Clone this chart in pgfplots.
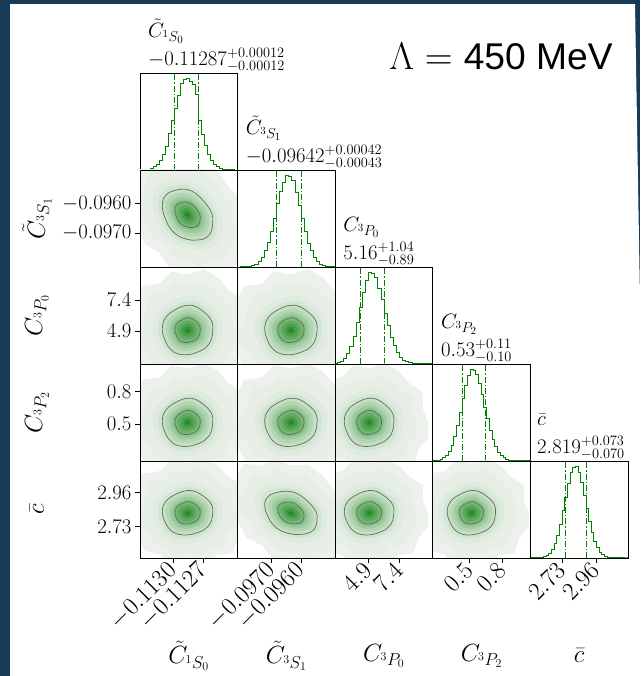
\documentclass[border=0pt]{standalone}
\usepackage{fontspec}
\usepackage{pgfplots}
\usepackage{pgfplotstable}
\pgfplotsset{compat=1.18}
\newfontfamily\arialfont{Liberation Sans}

\definecolor{navy}{RGB}{23,58,86}
\definecolor{hgreen}{RGB}{0,128,0}
\definecolor{clinecol}{RGB}{105,105,105}
\definecolor{L0}{RGB}{236,241,236}
\definecolor{L1}{RGB}{230,238,230}
\definecolor{L2}{RGB}{222,235,222}
\definecolor{L3}{RGB}{210,229,210}
\definecolor{L4}{RGB}{196,223,196}
\definecolor{L5}{RGB}{178,214,178}
\definecolor{L6}{RGB}{158,204,158}
\definecolor{L7}{RGB}{136,193,136}
\definecolor{L8}{RGB}{116,183,116}
\definecolor{L9}{RGB}{95,171,95}
\definecolor{L10}{RGB}{76,159,76}
\definecolor{L11}{RGB}{58,146,58}
\definecolor{L12}{RGB}{40,131,40}

% contour shapes in units of sigma
\pgfplotstableread{
u v
1.000 0.000
1.005 0.177
0.968 0.352
0.883 0.510
0.766 0.643
0.637 0.758
0.500 0.866
0.349 0.959
0.179 1.015
0.000 1.020
-0.174 0.985
-0.335 0.921
-0.485 0.840
-0.630 0.751
-0.766 0.643
-0.875 0.505
-0.959 0.349
-0.995 0.176
-1.000 0.000
-0.975 -0.172
-0.921 -0.335
-0.857 -0.495
-0.774 -0.649
-0.662 -0.789
-0.520 -0.901
-0.352 -0.968
-0.176 -0.995
0.000 -0.990
0.171 -0.965
0.332 -0.912
0.490 -0.849
0.643 -0.766
0.774 -0.649
0.883 -0.510
0.949 -0.345
0.985 -0.174
1.000 0.000
}\shapeA

\pgfplotstableread{
u v
1.000 0.000
0.908 0.243
0.918 0.530
0.686 0.686
0.515 0.892
0.280 1.043
0.000 0.950
-0.269 1.005
-0.460 0.797
-0.749 0.749
-0.866 0.500
-0.898 0.241
-1.040 0.000
-1.034 -0.277
-0.831 -0.480
-0.714 -0.714
-0.460 -0.797
-0.275 -1.024
0.000 -0.970
0.272 -1.014
0.470 -0.814
0.756 -0.756
0.831 -0.480
0.995 -0.267
1.000 0.000
}\shapeB

\newcommand{\setpar}[6]{\def\mx{#1}\def\sx{#2}\def\my{#3}\def\sy{#4}\def\rh{#5}\def\rc{#6}}
\newcommand{\lev}[3]{\addplot[draw=none, fill=#2] table[x expr={\mx+#1*\sx*\thisrow{u}}, y expr={\my+#1*\sy*(\rh*\thisrow{u}+\rc*\thisrow{v})}]{#3};}
\newcommand{\clev}[1]{\addplot[draw=clinecol, line width=0.7pt] table[x expr={\mx+#1*\sx*\thisrow{u}}, y expr={\my+#1*\sy*(\rh*\thisrow{u}+\rc*\thisrow{v})}]{\shapeA};}
\newcommand{\kde}{%
\lev{5.0}{L0}{\shapeB}\lev{4.0}{L1}{\shapeB}\lev{2.9}{L2}{\shapeA}\lev{2.45}{L3}{\shapeA}%
\lev{2.1}{L4}{\shapeA}\lev{1.8}{L5}{\shapeA}\lev{1.5}{L6}{\shapeA}\lev{1.25}{L7}{\shapeA}%
\lev{1.05}{L8}{\shapeA}\lev{0.8}{L9}{\shapeA}\lev{0.55}{L10}{\shapeA}\lev{0.32}{L11}{\shapeA}%
\lev{0.14}{L12}{\shapeA}\clev{2.1}\clev{1.05}}

\pgfplotsset{
  cp/.style={scale only axis, width=97.6pt, height=97pt, anchor=north west, axis on top,
    axis line style={line width=0.8pt, black}, xtick=\empty, ytick=\empty, tick pos=left,
    tick align=outside, major tick length=5pt, tick style={line width=0.7pt, black},
    scaled ticks=false,
    ticklabel style={font=\fontsize{22}{26}\selectfont},
    xticklabel style={rotate=45, anchor=east, yshift=-2pt, font=\fontsize{24}{28}\selectfont}},
  dg/.style={cp, ymin=0, ymax=1.06},
  hst/.style={hgreen, line width=1pt, const plot mark left},
  qln/.style={hgreen, line width=0.8pt, dash pattern=on 6pt off 2pt on 1.2pt off 2pt},
  xA/.style={xmin=-0.113335, xmax=-0.11236},
  xB/.style={xmin=-0.098167, xmax=-0.09484},
  xC/.style={xmin=2.22, xmax=10.08},
  xD/.style={xmin=0.162, xmax=1.055},
  xE/.style={xmin=2.515, xmax=3.175},
  yB/.style={ymin=-0.098167, ymax=-0.09484},
  yC/.style={ymin=2.22, ymax=10.08},
  yD/.style={ymin=0.162, ymax=1.055},
  yE/.style={ymin=2.515, ymax=3.175},
  xAt/.style={xtick={-0.1130,-0.1127}, xticklabels={$-0.1130$,$-0.1127$}},
  xBt/.style={xtick={-0.0970,-0.0960}, xticklabels={$-0.0970$,$-0.0960$}},
  xCt/.style={xtick={4.9,7.4}, xticklabels={$4.9$,$7.4$}},
  xDt/.style={xtick={0.5,0.8}, xticklabels={$0.5$,$0.8$}},
  xEt/.style={xtick={2.73,2.96}, xticklabels={$2.73$,$2.96$}},
  yBt/.style={ytick={-0.0970,-0.0960}, yticklabels={$-0.0970$,$-0.0960$}},
  yCt/.style={ytick={4.9,7.4}, yticklabels={$4.9$,$7.4$}},
  yDt/.style={ytick={0.5,0.8}, yticklabels={$0.5$,$0.8$}},
  yEt/.style={ytick={2.73,2.96}, yticklabels={$2.73$,$2.96$}},
}

\begin{document}
\begin{tikzpicture}
\fill[navy] (0pt,0pt) rectangle (640pt,676pt);
\fill[white] (10pt,0pt) rectangle (635pt,672pt);
\fill[white] (635pt,0pt) -- (640pt,0pt) -- (640pt,376pt) -- (635pt,672pt) -- cycle;
\useasboundingbox (0pt,0pt) rectangle (640pt,676pt);

% ---------------- diagonal histograms ----------------
\begin{axis}[dg, xA, at={(140pt,603pt)}]
\addplot[hst] coordinates {(-0.11335,0.002) (-0.11332,0.003) (-0.11329,0.006) (-0.11326,0.010) (-0.11323,0.018) (-0.11320,0.035) (-0.11317,0.058) (-0.11314,0.108) (-0.11311,0.170) (-0.11308,0.262) (-0.11305,0.395) (-0.11302,0.540) (-0.11299,0.675) (-0.11296,0.818) (-0.11293,0.940) (-0.11290,0.985) (-0.11287,0.998) (-0.11284,0.965) (-0.11281,0.930) (-0.11278,0.820) (-0.11275,0.545) (-0.11272,0.392) (-0.11269,0.270) (-0.11266,0.165) (-0.11263,0.102) (-0.11260,0.063) (-0.11257,0.034) (-0.11254,0.017) (-0.11251,0.009) (-0.11248,0.004) (-0.11245,0.002) (-0.11242,0.001) (-0.11239,0.001)};
\addplot[qln] coordinates {(-0.11299,0) (-0.11299,1.06)};
\addplot[qln] coordinates {(-0.11275,0) (-0.11275,1.06)};
\end{axis}

\begin{axis}[dg, xB, at={(237.6pt,506pt)}]
\addplot[hst] coordinates {(-0.09810,0.001) (-0.097995,0.002) (-0.09789,0.005) (-0.097785,0.008) (-0.09768,0.017) (-0.097575,0.030) (-0.09747,0.062) (-0.097365,0.100) (-0.09726,0.175) (-0.097155,0.270) (-0.09705,0.385) (-0.096945,0.525) (-0.09684,0.690) (-0.096735,0.830) (-0.09663,0.925) (-0.096525,1.000) (-0.09642,0.985) (-0.096315,0.940) (-0.09621,0.815) (-0.096105,0.675) (-0.09600,0.535) (-0.095895,0.385) (-0.09579,0.262) (-0.095685,0.176) (-0.09558,0.100) (-0.095475,0.058) (-0.09537,0.031) (-0.095265,0.016) (-0.09516,0.008) (-0.095055,0.004) (-0.09495,0.002) (-0.094845,0.001) (-0.09474,0.001)};
\addplot[qln] coordinates {(-0.09685,0) (-0.09685,1.06)};
\addplot[qln] coordinates {(-0.09600,0) (-0.09600,1.06)};
\end{axis}

\begin{axis}[dg, xC, at={(335.2pt,409pt)}]
\addplot[hst] coordinates {(2.16,0.005) (2.41,0.013) (2.66,0.029) (2.91,0.056) (3.16,0.110) (3.41,0.186) (3.66,0.305) (3.91,0.452) (4.16,0.612) (4.41,0.785) (4.66,0.910) (4.91,0.995) (5.16,0.988) (5.41,0.940) (5.66,0.830) (5.91,0.705) (6.16,0.552) (6.41,0.420) (6.66,0.292) (6.91,0.199) (7.16,0.122) (7.41,0.075) (7.66,0.040) (7.91,0.022) (8.16,0.011) (8.41,0.005) (8.66,0.002) (8.91,0.001) (9.16,0.0005) (9.41,0.0003) (9.66,0.0001) (9.91,0) (10.16,0)};
\addplot[qln] coordinates {(4.27,0) (4.27,1.06)};
\addplot[qln] coordinates {(6.20,0) (6.20,1.06)};
\end{axis}

\begin{axis}[dg, xD, at={(432.8pt,312pt)}]
\addplot[hst] coordinates {(0.155,0.001) (0.180,0.003) (0.205,0.008) (0.230,0.016) (0.255,0.033) (0.280,0.059) (0.305,0.106) (0.330,0.170) (0.355,0.270) (0.380,0.385) (0.405,0.535) (0.430,0.680) (0.455,0.828) (0.480,0.930) (0.505,0.995) (0.530,0.990) (0.555,0.945) (0.580,0.848) (0.605,0.732) (0.630,0.590) (0.655,0.460) (0.680,0.335) (0.705,0.236) (0.730,0.153) (0.755,0.098) (0.780,0.057) (0.805,0.034) (0.830,0.017) (0.855,0.009) (0.880,0.004) (0.905,0.002) (0.930,0.001) (0.955,0.0005) (0.980,0.0002) (1.005,0.0001) (1.030,0) (1.055,0)};
\addplot[qln] coordinates {(0.43,0) (0.43,1.06)};
\addplot[qln] coordinates {(0.64,0) (0.64,1.06)};
\end{axis}

\begin{axis}[dg, xE, xEt, at={(530.4pt,215pt)}]
\addplot[hst] coordinates {(2.513,0.0001) (2.531,0.0004) (2.549,0.001) (2.567,0.0025) (2.585,0.006) (2.603,0.013) (2.621,0.027) (2.639,0.050) (2.657,0.093) (2.675,0.155) (2.693,0.250) (2.711,0.365) (2.729,0.515) (2.747,0.665) (2.765,0.815) (2.783,0.930) (2.801,0.990) (2.819,0.995) (2.837,0.930) (2.855,0.830) (2.873,0.685) (2.891,0.540) (2.909,0.400) (2.927,0.275) (2.945,0.182) (2.963,0.110) (2.981,0.065) (2.999,0.035) (3.017,0.018) (3.035,0.009) (3.053,0.004) (3.071,0.0017) (3.089,0.0007) (3.107,0.0003) (3.125,0.0001) (3.143,0) (3.161,0) (3.179,0)};
\addplot[qln] coordinates {(2.749,0) (2.749,1.06)};
\addplot[qln] coordinates {(2.892,0) (2.892,1.06)};
\end{axis}

% ---------------- 2D panels ----------------
\setpar{-0.11286}{0.00012}{-0.09638}{0.000425}{-0.3}{0.954}
\begin{axis}[cp, xA, yB, yBt, at={(140pt,506pt)}]\kde\end{axis}

\setpar{-0.11286}{0.00012}{4.95}{0.95}{0}{1}
\begin{axis}[cp, xA, yC, yCt, at={(140pt,409pt)}]\kde\end{axis}
\setpar{-0.09635}{0.000425}{4.95}{0.95}{0}{1}
\begin{axis}[cp, xB, yC, at={(237.6pt,409pt)}]\kde\end{axis}

\setpar{-0.11286}{0.00012}{0.515}{0.105}{0}{1}
\begin{axis}[cp, xA, yD, yDt, at={(140pt,312pt)}]\kde\end{axis}
\setpar{-0.09635}{0.000425}{0.515}{0.105}{0}{1}
\begin{axis}[cp, xB, yD, at={(237.6pt,312pt)}]\kde\end{axis}
\setpar{4.95}{0.95}{0.515}{0.105}{0}{1}
\begin{axis}[cp, xC, yD, at={(335.2pt,312pt)}]\kde\end{axis}

\setpar{-0.11286}{0.00012}{2.821}{0.0715}{0}{1}
\begin{axis}[cp, xA, xAt, yE, yEt, at={(140pt,215pt)}]\kde\end{axis}
\setpar{-0.09635}{0.000425}{2.821}{0.0715}{-0.3}{0.954}
\begin{axis}[cp, xB, xBt, yE, at={(237.6pt,215pt)}]\kde\end{axis}
\setpar{4.95}{0.95}{2.821}{0.0715}{0}{1}
\begin{axis}[cp, xC, xCt, yE, at={(335.2pt,215pt)}]\kde\end{axis}
\setpar{0.515}{0.105}{2.821}{0.0715}{0}{1}
\begin{axis}[cp, xD, xDt, yE, at={(432.8pt,215pt)}]\kde\end{axis}

% ---------------- titles ----------------
\begin{scope}[every node/.style={anchor=south west, align=left, inner sep=0pt, font=\fontsize{22}{28}\selectfont}]
\node at (148pt,604pt) {$\tilde{C}_{^1S_0}$\\$-0.11287^{+0.00012}_{-0.00012}$};
\node at (245.6pt,507pt) {$\tilde{C}_{^3S_1}$\\$-0.09642^{+0.00042}_{-0.00043}$};
\node at (343.2pt,410pt) {$C_{^3P_0}$\\$5.16^{+1.04}_{-0.89}$};
\node at (440.8pt,313pt) {$C_{^3P_2}$\\$0.53^{+0.11}_{-0.10}$};
\node at (537pt,216pt) {$\bar{c}$\\$2.819^{+0.073}_{-0.070}$};
\end{scope}

% ---------------- axis labels ----------------
\begin{scope}[every node/.style={font=\fontsize{24}{28}\selectfont}]
\node[rotate=90] at (37pt,457.5pt) {$\tilde{C}_{^3S_1}$};
\node[rotate=90] at (37pt,360.5pt) {$C_{^3P_0}$};
\node[rotate=90] at (37pt,263.5pt) {$C_{^3P_2}$};
\node[rotate=90] at (37pt,166.5pt) {$\bar{c}$};
\node at (188.8pt,20pt) {$\tilde{C}_{^1S_0}$};
\node at (286.4pt,20pt) {$\tilde{C}_{^3S_1}$};
\node at (384pt,20pt) {$C_{^3P_0}$};
\node at (481.6pt,20pt) {$C_{^3P_2}$};
\node at (579.2pt,20pt) {$\bar{c}$};
\end{scope}

\node[anchor=base, scale=1.55, transform shape, font=\fontsize{24}{28}\selectfont] at (501pt,606pt) {$\Lambda =$ {\arialfont 450 MeV}};
\end{tikzpicture}
\end{document}
